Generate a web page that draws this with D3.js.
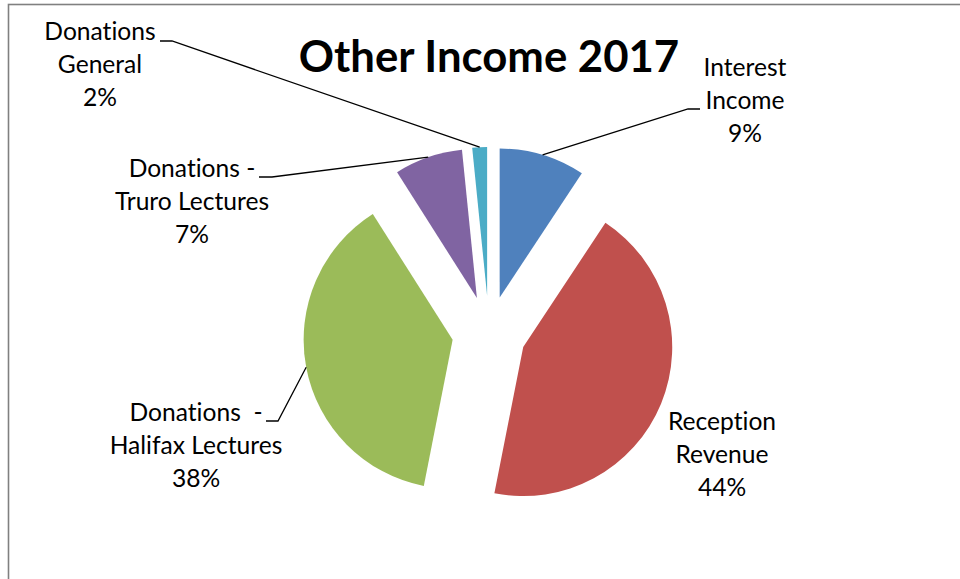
<!DOCTYPE html>
<html><head><meta charset="utf-8">
<script src="https://cdn.jsdelivr.net/npm/d3@7"></script>
<style>
html,body{margin:0;padding:0;background:#fff;}
svg{display:block;}
text{font-family:Lato,"Open Sans",sans-serif;fill:#000;font-variant-ligatures:none;font-feature-settings:"liga" 0,"clig" 0;}
</style></head>
<body>
<svg id="chart" width="960" height="579"></svg>
<script>
// Data
const categories = ["Interest Income", "Reception Revenue", "Donations - Halifax Lectures", "Donations - Truro Lectures", "Donations General"];
const values = [9.3, 43.8, 37.9, 7.4, 1.6];
const labelLines = [["Interest", "Income", "9%"], ["Reception", "Revenue", "44%"], ["Donations  -", "Halifax Lectures", "38%"], ["Donations -", "Truro Lectures", "7%"], ["Donations", "General", "2%"]];
const colors = ["#4F81BD", "#C0504D", "#9BBB59", "#8064A2", "#4BACC6"];
const title = "Other Income 2017";

// Layout (label anchors: center x, first baseline; leader: elbow & end)
const layout = [
  {cx: 745, y: 76, elbow: [688, 109], end: [700, 109]},
  {cx: 722, y: 430, elbow: null, end: null},
  {cx: 196, y: 421, elbow: [278, 421], end: [266, 421]},
  {cx: 192, y: 177, elbow: [272, 177], end: [259, 177]},
  {cx: 100, y: 40, elbow: [172, 41], end: [160, 41]}
];

const svg = d3.select("#chart");
svg.append("rect").attr("x", 8.5).attr("y", 4.5).attr("width", 1000).attr("height", 1000)
  .attr("fill", "none").attr("stroke", "#808080").attr("stroke-width", 1.6);

svg.append("text").attr("x", 489).attr("y", 72).attr("text-anchor", "middle")
  .style("font-weight", "bold").style("font-size", "43.7px").text(title);

const cx = 489, cy = 333, r = 149, explode = 37;
const pie = d3.pie().sort(null).value(d => d)(values);
const arc = d3.arc().innerRadius(0).outerRadius(r);
const g = svg.append("g").attr("transform", `translate(${cx},${cy})`);

pie.forEach((p, i) => {
  const mid = (p.startAngle + p.endAngle) / 2;
  const ox = explode * Math.sin(mid), oy = -explode * Math.cos(mid);
  g.append("path").attr("d", arc(p)).attr("fill", colors[i])
    .attr("transform", `translate(${ox},${oy})`);
  const L = layout[i];
  if (L.elbow) {
    const px = cx + ox + r * Math.sin(mid), py = cy + oy - r * Math.cos(mid);
    svg.append("polyline").attr("points", [[px, py], L.elbow, L.end].map(q => q.join(",")).join(" "))
      .attr("fill", "none").attr("stroke", "#000").attr("stroke-width", 1.3);
  }
  const t = svg.append("text").attr("text-anchor", "middle").style("font-size", "24.6px")
    .style("white-space", "pre");
  labelLines[i].forEach((s, k) => {
    t.append("tspan").attr("x", L.cx).attr("y", L.y + k * 33).text(s);
  });
});
</script>
</body></html>
